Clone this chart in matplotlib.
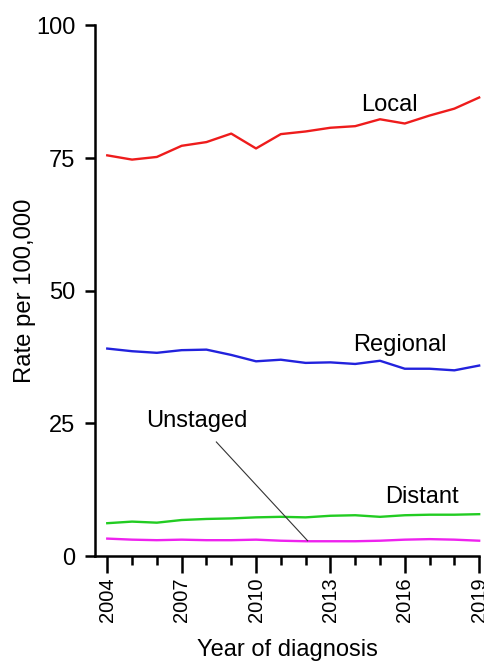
import matplotlib
matplotlib.use('Agg')
import matplotlib.pyplot as plt
from matplotlib.ticker import MultipleLocator

plt.rcParams['font.family'] = ['Liberation Sans', 'DejaVu Sans']

# Dados
anos = list(range(2004, 2020))
local = [75.5, 74.7, 75.2, 77.3, 78.0, 79.6, 76.8, 79.5, 80.0, 80.7, 81.0, 82.3, 81.5, 83.0, 84.3, 86.4]
regional = [39.1, 38.6, 38.3, 38.8, 38.9, 37.9, 36.7, 37.0, 36.4, 36.5, 36.2, 36.8, 35.3, 35.3, 35.0, 35.9]
distant = [6.2, 6.5, 6.3, 6.8, 7.0, 7.1, 7.3, 7.4, 7.3, 7.6, 7.7, 7.4, 7.7, 7.8, 7.8, 7.9]
unstaged = [3.3, 3.1, 3.0, 3.1, 3.0, 3.0, 3.1, 2.9, 2.8, 2.8, 2.8, 2.9, 3.1, 3.2, 3.1, 2.9]

fig = plt.figure(figsize=(4.84, 6.66), dpi=100)
ax = fig.add_axes([0.196, 0.165, 0.794, 0.797])

ax.plot(anos, local, color='#ee1c1c', lw=1.7, clip_on=False)
ax.plot(anos, regional, color='#2222dd', lw=1.7, clip_on=False)
ax.plot(anos, distant, color='#22cc22', lw=1.7, clip_on=False)
ax.plot(anos, unstaged, color='#ee22ee', lw=1.7, clip_on=False)

# Rótulos das séries
ax.text(2015.4, 84.9, 'Local', fontsize=17, ha='center', va='center')
ax.text(2015.8, 39.7, 'Regional', fontsize=17, ha='center', va='center')
ax.text(2016.7, 11.1, 'Distant', fontsize=17, ha='center', va='center')
ax.text(2007.6, 25.4, 'Unstaged', fontsize=17, ha='center', va='center')
ax.plot([2008.4, 2012.08], [21.5, 2.9], color='#333333', lw=0.8)

ax.set_xlim(2003.5, 2019)
ax.set_ylim(0, 100)
ax.xaxis.set_minor_locator(MultipleLocator(1))
ax.set_xticks([2004, 2007, 2010, 2013, 2016, 2019])
ax.set_yticks([0, 25, 50, 75, 100])

for lado in ['top', 'right']:
    ax.spines[lado].set_visible(False)
for lado in ['left', 'bottom']:
    ax.spines[lado].set_linewidth(1.8)

ax.tick_params(axis='y', direction='out', length=7, width=1.8, labelsize=17, pad=7)
ax.tick_params(axis='x', which='major', direction='out', length=12, width=1.8, labelsize=14.5, labelrotation=90)
ax.tick_params(axis='x', which='minor', direction='out', length=6.5, width=1.8)

ax.set_xlabel('Year of diagnosis', fontsize=17, labelpad=12)
ax.set_ylabel('Rate per 100,000', fontsize=17.2, va='center')
ax.yaxis.set_label_coords(-0.182, 0.5)

fig.savefig('out.png', dpi=100)
